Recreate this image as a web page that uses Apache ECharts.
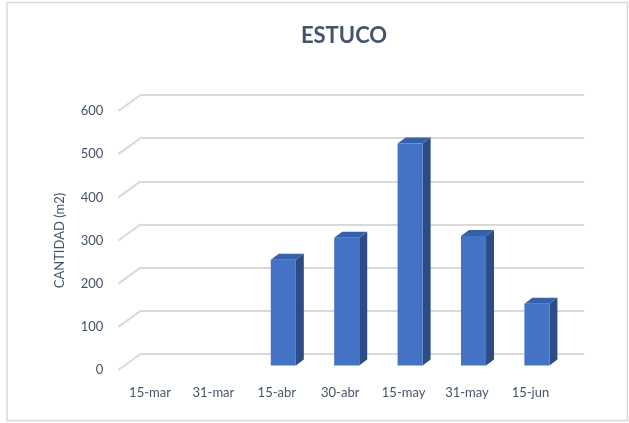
<!DOCTYPE html>
<html>
<head>
<meta charset="utf-8">
<script src="https://cdn.jsdelivr.net/npm/echarts@6/dist/echarts.min.js"></script>
<style>
  html, body { margin: 0; padding: 0; background: #fff; }
  #chart { width: 629px; height: 423px; }
</style>
</head>
<body>
<div id="chart"></div>
<script>
// Data
const categories = ['15-mar', '31-mar', '15-abr', '30-abr', '15-may', '31-may', '15-jun'];
const cantidad = [0, 0, 245, 296, 514, 300, 143];
const yTicks = [0, 100, 200, 300, 400, 500, 600];

// Oblique depth offset from the back wall to the front plane (px)
const DEPTH_DX = -22.2;
const DEPTH_DY = 16;
// Where the column sits inside the depth, and its own depth
const BAR_SHIFT_X = 6.5, BAR_SHIFT_Y = -4.5;
const BAR_DEPTH_X = 8, BAR_DEPTH_Y = -6;

const BACK = { left: 140.5, top: 95, width: 443.8, height: 259 };
const FRONT = {
  left: BACK.left + DEPTH_DX, top: BACK.top + DEPTH_DY,
  width: BACK.width, height: BACK.height
};

const textColor = '#44546a';
const fontFamily = 'Lato, "Open Sans", sans-serif';

const chart = echarts.init(document.getElementById('chart'), null, { renderer: 'canvas' });

const option = {
  backgroundColor: '#ffffff',
  animation: false,
  title: {
    text: 'ESTUCO',
    left: 339,
    textAlign: 'center',
    top: 20,
    textStyle: { color: textColor, fontSize: 22, fontWeight: 'bold', fontFamily: fontFamily }
  },
  graphic: [{
    type: 'rect',
    shape: { x: 7, y: 2.5, width: 620.5, height: 418 },
    style: { fill: 'none', stroke: '#d9d9d9', lineWidth: 1.5 },
    silent: true
  }],
  grid: [
    Object.assign({ containLabel: false }, BACK),
    Object.assign({ containLabel: false }, FRONT)
  ],
  xAxis: [
    { type: 'category', gridIndex: 0, data: categories, show: false },
    {
      type: 'category', gridIndex: 1, data: categories,
      axisLine: { show: false }, axisTick: { show: false },
      axisLabel: { color: textColor, fontSize: 13, fontFamily: fontFamily, margin: 16, interval: 0 }
    }
  ],
  yAxis: [
    {
      type: 'value', gridIndex: 0, min: 0, max: 600, interval: 100,
      axisLabel: { show: false }, axisLine: { show: false }, axisTick: { show: false },
      splitLine: { lineStyle: { color: '#d9d9d9', width: 2 } }
    },
    {
      type: 'value', gridIndex: 1, min: 0, max: 600, interval: 100,
      axisLine: { show: false }, axisTick: { show: false }, splitLine: { show: false },
      axisLabel: { color: textColor, fontSize: 13, fontFamily: fontFamily, margin: 15 },
      name: 'CANTIDAD (m2)',
      nameLocation: 'middle',
      nameGap: 52,
      nameTextStyle: { color: textColor, fontSize: 13, fontFamily: fontFamily }
    }
  ],
  series: [
    {
      // left-wall diagonals joining the front tick positions to the back gridlines
      type: 'custom',
      xAxisIndex: 0, yAxisIndex: 0,
      silent: true,
      z: 1,
      data: yTicks.map(v => [0, v]),
      encode: { x: 0, y: 1 },
      renderItem: function (params, api) {
        const y = api.coord([0, api.value(1)])[1];
        const x0 = params.coordSys.x;
        return {
          type: 'line',
          shape: { x1: x0 + DEPTH_DX, y1: y + DEPTH_DY, x2: x0, y2: y },
          style: { stroke: '#d9d9d9', lineWidth: 2 }
        };
      }
    },
    {
      // 3D columns: front, side and top faces
      type: 'custom',
      xAxisIndex: 1, yAxisIndex: 1,
      z: 3,
      data: cantidad.map((v, i) => [i, v]),
      encode: { x: 0, y: 1 },
      renderItem: function (params, api) {
        const val = api.value(1);
        if (!val) return null;
        const top = api.coord([api.value(0), val]);
        const base = api.coord([api.value(0), 0]);
        const w = api.size([1, 0])[0] * 0.395;
        const xl = top[0] - w / 2 + BAR_SHIFT_X;
        const xr = xl + w;
        const yt = top[1] + BAR_SHIFT_Y;
        const yb = base[1] + BAR_SHIFT_Y;
        const dx = BAR_DEPTH_X, dy = BAR_DEPTH_Y;
        return {
          type: 'group',
          children: [
            {
              type: 'polygon',
              shape: { points: [[xr, yt], [xr + dx, yt + dy], [xr + dx, yb + dy], [xr, yb]] },
              style: { fill: '#2c4c85' }
            },
            {
              type: 'polygon',
              shape: { points: [[xl, yt], [xl + dx, yt + dy], [xr + dx, yt + dy], [xr, yt]] },
              style: { fill: '#3561ab' }
            },
            {
              type: 'rect',
              shape: { x: xl, y: yt, width: w, height: yb - yt },
              style: { fill: '#4472c4' }
            }
          ]
        };
      }
    }
  ]
};

chart.setOption(option);
</script>
</body>
</html>
